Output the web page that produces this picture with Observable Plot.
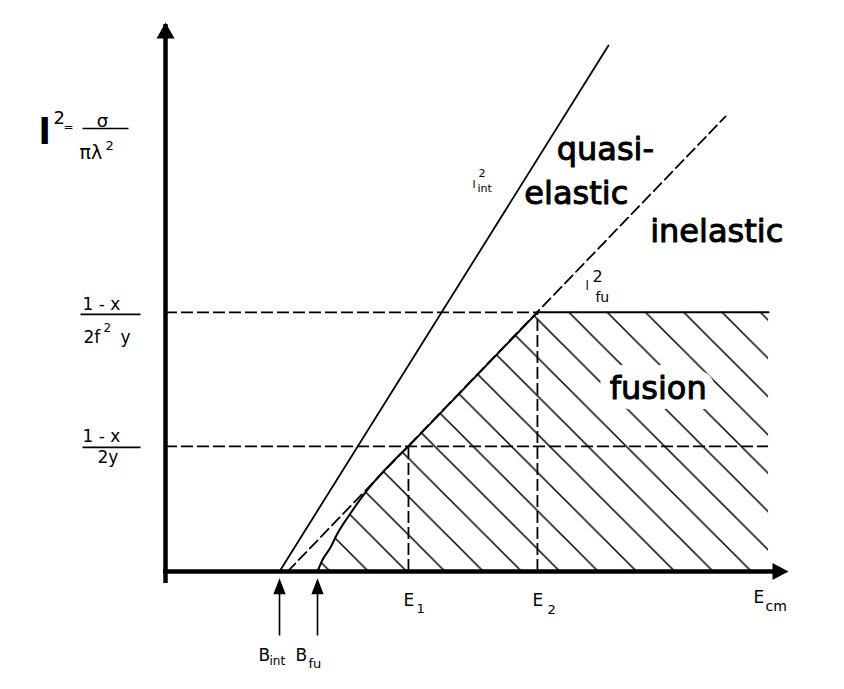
<!DOCTYPE html>
<html>
<head>
<meta charset="utf-8">
<script src="https://cdn.jsdelivr.net/npm/d3@7"></script>
<script src="https://cdn.jsdelivr.net/npm/@observablehq/plot@0.6"></script>
<style>
  body { margin: 0; background: #fff; }
  svg { display: block; }
</style>
</head>
<body>
<div id="chart"></div>
<script>
// ---------- data (arbitrary schematic units: E on x, l^2 on y) ----------
const energyMain = ["B", "B", "E", "E"];
const energySub = ["int", "fu", "1", "2"];
const energyValues = [18.3, 24.4, 39.0, 59.7];      // B_int, B_fu, E_1, E_2
const axisTitleX = ["E", "cm"];

const levelValues = [47.2, 22.8];                  // (1-x)/(2f^2 y), (1-x)/(2y)
const levelNumerators = ["1 - x", "1 - x"];
const levelDenominators = ["2f² y", "2y"];

const lIntE = [18.3, 71.1];                        // l^2_int (solid)
const lIntL = [0, 95.8];
const lFuE = [19.6, 89.9];                         // l^2_fu (dashed)
const lFuL = [0, 82.9];

const fusionE = [24.4, 25.15, 26.5, 27.45, 29.7, 32.1, 39.0, 59.7, 96.8];
const fusionL = [0, 2.0, 4.4, 6.6, 10.6, 14.4, 22.8, 47.2, 47.2];

const regionNames = ["quasi-", "elastic", "inelastic", "fusion"];

// ---------- derived tables ----------
const fusion = fusionE.map((e, i) => ({e, l: fusionL[i]}));
const fusionCurved = fusion.slice(0, 7);
const fusionStraight = fusion.slice(6);
const lInt = lIntE.map((e, i) => ({e, l: lIntL[i]}));
const lFu = lFuE.map((e, i) => ({e, l: lFuL[i]}));
const eEnd = fusionE[fusionE.length - 1];
const E1 = energyValues[2], E2 = energyValues[3];
const dashedLevels = [
  {l: levelValues[0], end: E2},
  {l: levelValues[1], end: eEnd}
];
const verticals = [
  {e: E1, l: levelValues[1]},
  {e: E2, l: levelValues[0]}
];

// ---------- symbols ----------
const upHead = {draw(c) { c.moveTo(0, 0); c.lineTo(9, 16); c.lineTo(-9, 16); c.closePath(); }};
const rightHead = {draw(c) { c.moveTo(0, 0); c.lineTo(-16, -8.5); c.lineTo(-16, 8.5); c.closePath(); }};
const tickArrow = {draw(c) { c.moveTo(0, 9); c.lineTo(5, 22); c.lineTo(-5, 22); c.closePath(); c.moveTo(0, 20); c.lineTo(0, 64); }};
const bar = hw => ({draw(c) { c.moveTo(-hw, 0); c.lineTo(hw, 0); }});

const FONT = "DejaVu Sans";
function label(xv, yv, str, dx, dy, size, extra = {}) {
  return Plot.text([str], {
    x: xv, y: yv, text: d => d, dx, dy,
    textAnchor: "start", lineAnchor: "bottom",
    fontSize: size, fontFamily: FONT, fill: "black", ...extra
  });
}

// ---------- label layout ----------
const xLabelLayout = [
  {mdx: -21, mdy: 89, sdx: -10, sdy: 93, ss: 12},
  {mdx: -22, mdy: 89, sdx: -9, sdy: 96, ss: 13},
  {mdx: -5, mdy: 34, sdx: 8, sdy: 41, ss: 13},
  {mdx: -5, mdy: 34, sdx: 10, sdy: 42, ss: 13}
];

const marks = [];

// hatched fusion region
marks.push(Plot.areaY(fusionCurved, {x: "e", y: "l", fill: "url(#hatch)", curve: "monotone-x"}));
marks.push(Plot.areaY(fusionStraight, {x: "e", y: "l", fill: "url(#hatch)"}));

// halo behind "fusion"
marks.push(label(71.3, 31.5, regionNames[3], 0, 0, 32, {fill: "white", stroke: "white", strokeWidth: 20}));

// dashed guide lines
marks.push(Plot.ruleY(dashedLevels, {y: "l", x1: 0, x2: "end", stroke: "black", strokeWidth: 1.8, strokeDasharray: "12,4"}));
marks.push(Plot.ruleX(verticals, {x: "e", y1: 0, y2: "l", stroke: "black", strokeWidth: 1.8, strokeDasharray: "12,4"}));

// l^2_int and l^2_fu
marks.push(Plot.line(lInt, {x: "e", y: "l", stroke: "black", strokeWidth: 1.8}));
marks.push(Plot.line(lFu, {x: "e", y: "l", stroke: "black", strokeWidth: 1.8, strokeDasharray: "11,5"}));

// fusion boundary
marks.push(Plot.line(fusionCurved, {x: "e", y: "l", stroke: "black", strokeWidth: 2, curve: "monotone-x"}));
marks.push(Plot.line(fusionStraight, {x: "e", y: "l", stroke: "black", strokeWidth: 2}));

// axes with arrowheads
marks.push(Plot.ruleX([0], {y1: 0, y2: 100, insetTop: 12, insetBottom: -2, stroke: "black", strokeWidth: 4.5}));
marks.push(Plot.ruleY([0], {x1: 0, x2: 100, insetRight: 12, insetLeft: -2, stroke: "black", strokeWidth: 4.5}));
marks.push(Plot.dot([0], {x: 0, y: 100, symbol: upHead, fill: "black", stroke: "none"}));
marks.push(Plot.dot([0], {x: 100, y: 0, symbol: rightHead, fill: "black", stroke: "none"}));

// arrows under B_int, B_fu
marks.push(Plot.dot(energyValues.slice(0, 2), {x: d => d, y: 0, symbol: tickArrow, fill: "black", stroke: "black", strokeWidth: 1.6}));

// x labels
energyValues.forEach((v, i) => {
  const L = xLabelLayout[i];
  marks.push(label(v, 0, energyMain[i], L.mdx, L.mdy, 17));
  marks.push(label(v, 0, energySub[i], L.sdx, L.sdy, L.ss));
});
marks.push(label(100, 0, axisTitleX[0], -35, 31, 17));
marks.push(label(100, 0, axisTitleX[1], -23, 39, 14));

// y level labels (fractions)
const levelLayout = [
  {ndx: -83, ndy: -2, bdx: -55, bdy: 2, hw: 30, ddx: -82, ddy: 31},
  {ndx: -83, ndy: -4, bdx: -54, bdy: 1, hw: 29, ddx: -68, ddy: 17}
];
levelValues.forEach((v, i) => {
  const L = levelLayout[i];
  marks.push(label(0, v, levelNumerators[i], L.ndx, L.ndy, 17));
  marks.push(Plot.dot([0], {x: 0, y: v, dx: L.bdx, dy: L.bdy, symbol: bar(L.hw), fill: "none", stroke: "black", strokeWidth: 1.6}));
  const den = levelDenominators[i];
  if (den.includes("²")) {
    const [a, b] = den.split("²");
    marks.push(label(0, v, a, L.ddx, L.ddy, 17));
    marks.push(label(0, v, "2", L.ddx + 20, L.ddy - 11, 12));
    marks.push(label(0, v, b.trim(), L.ddx + 37, L.ddy, 17));
  } else {
    marks.push(label(0, v, den, L.ddx, L.ddy, 17));
  }
});

// y-axis title  l^2 = sigma / (pi lambda^2)
marks.push(label(0, 100, "l", -127, 121, 36, {fontWeight: "bold"}));
marks.push(label(0, 100, "2", -112, 101, 18));
marks.push(label(0, 100, "=", -102, 108, 12));
marks.push(label(0, 100, "σ", -63, 104, 18, {textAnchor: "middle"}));
marks.push(Plot.dot([0], {x: 0, y: 100, dx: -60, dy: 106, symbol: bar(23), fill: "none", stroke: "black", strokeWidth: 1.6}));
marks.push(label(0, 100, "πλ", -86, 136, 19));
marks.push(label(0, 100, "2", -60, 127, 13));

// line labels
marks.push(label(lIntE[1], lIntL[1], "l", -136, 142, 11));
marks.push(label(lIntE[1], lIntL[1], "2", -130, 131, 11));
marks.push(label(lIntE[1], lIntL[1], "int", -131, 146, 11));
marks.push(label(E2, levelValues[0], "l", 48, -22, 12));
marks.push(label(E2, levelValues[0], "2", 55, -30, 16));
marks.push(label(E2, levelValues[0], "fu", 58, -10, 14));

// region labels
const big = {stroke: "black", strokeWidth: 1};
marks.push(label(62.8, 75.0, regionNames[0], 0, 0, 32, big));
marks.push(label(57.6, 67.0, regionNames[1], 0, 0, 32, big));
marks.push(label(77.8, 60.1, regionNames[2], 0, 0, 32, big));
marks.push(label(71.3, 31.5, regionNames[3], 0, 0, 32, big));

const chart = Plot.plot({
  width: 844,
  height: 689,
  marginLeft: 165,
  marginRight: 56,
  marginTop: 22,
  marginBottom: 118,
  x: {domain: [0, 100], axis: null},
  y: {domain: [0, 100], axis: null},
  style: {fontFamily: FONT, background: "white", color: "black"},
  marks
});

// hatch pattern (45° lines, ~38 px apart horizontally)
const w = 38.3;
d3.select(chart).insert("defs", ":first-child")
  .append("pattern")
  .attr("id", "hatch")
  .attr("patternUnits", "userSpaceOnUse")
  .attr("x", 26.8).attr("y", 0)
  .attr("width", w).attr("height", w)
  .append("path")
  .attr("d", `M0,0L${w},${w}M${w - 2},-2L${w + 2},2M-2,${w - 2}L2,${w + 2}`)
  .attr("stroke", "black")
  .attr("stroke-width", 1.5)
  .attr("fill", "none");

document.getElementById("chart").appendChild(chart);
</script>
</body>
</html>
